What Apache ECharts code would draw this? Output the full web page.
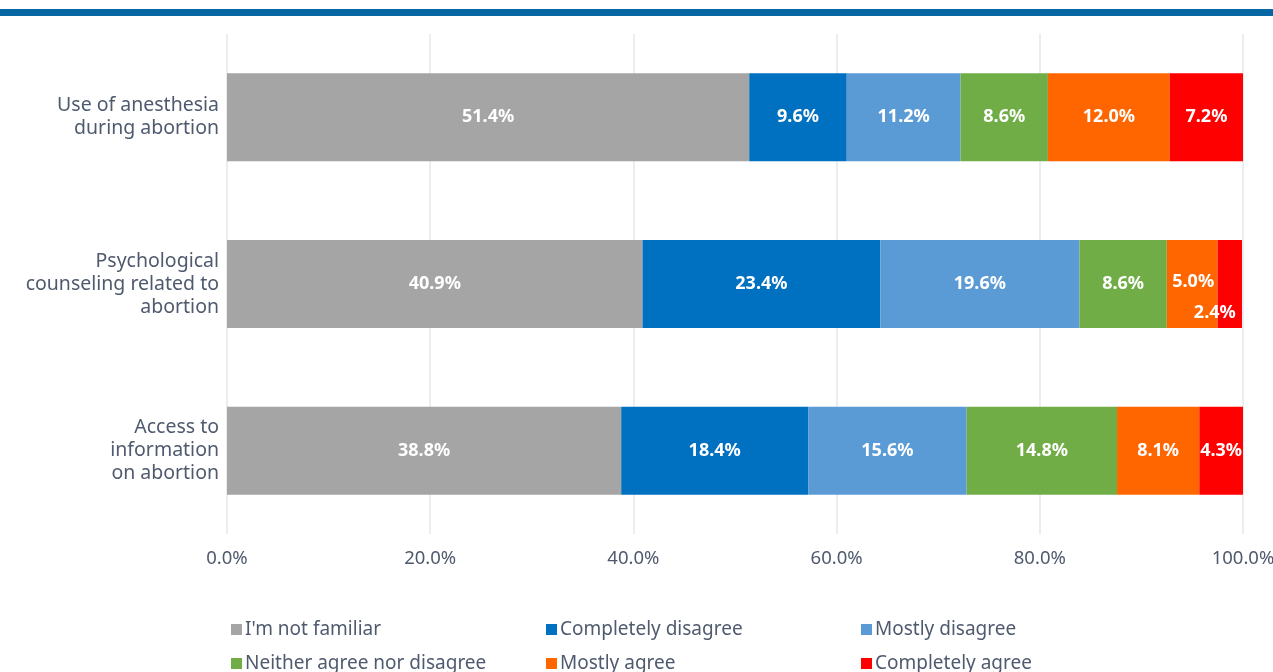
<!DOCTYPE html>
<html>
<head>
<meta charset="utf-8">
<script src="https://cdn.jsdelivr.net/npm/echarts@6/dist/echarts.min.js"></script>
<style>
  html, body { margin: 0; padding: 0; background: #fff; }
  #topline { position: absolute; left: 0; top: 9px; width: 1273px; height: 7px; background: #0467a4; }
  #chart { width: 1273px; height: 672px; }
</style>
</head>
<body>
<div id="topline"></div>
<div id="chart"></div>
<script>
const categories = [
  'Use of anesthesia\nduring abortion',
  'Psychological\ncounseling related to\nabortion',
  'Access to\ninformation\non abortion'
];
const seriesNames = [
  "I'm not familiar",
  'Completely disagree',
  'Mostly disagree',
  'Neither agree nor disagree',
  'Mostly agree',
  'Completely agree'
];
const notFamiliar = [51.4, 40.9, 38.8];
const completelyDisagree = [9.6, 23.4, 18.4];
const mostlyDisagree = [11.2, 19.6, 15.6];
const neither = [8.6, 8.6, 14.8];
const mostlyAgree = [12.0, 5.0, 8.1];
const completelyAgree = [7.2, 2.4, 4.3];
const xTicks = [0, 20, 40, 60, 80, 100];

const colors = ['#a5a5a5', '#0070c0', '#5b9bd5', '#70ad47', '#ff6600', '#ff0000'];
const values = [notFamiliar, completelyDisagree, mostlyDisagree, neither, mostlyAgree, completelyAgree];
const font = '"Noto Sans", sans-serif';
const textColor = '#4f5a6e';

const chart = echarts.init(document.getElementById('chart'));

// one legend per item so they sit in a fixed 3-column grid
const legendPos = [[226, 615], [541, 615], [856, 615], [226, 649], [541, 649], [856, 649]];
const legends = seriesNames.map((name, i) => ({
  data: [name],
  left: legendPos[i][0],
  top: legendPos[i][1],
  itemWidth: 11,
  itemHeight: 11,
  itemGap: 4,
  icon: 'rect',
  textStyle: { fontFamily: font, fontSize: 19, color: textColor, padding: [0, 0, 0, -2] },
  selectedMode: false
}));

const series = seriesNames.map((name, i) => ({
  name,
  type: 'bar',
  stack: 'total',
  barWidth: 88,
  itemStyle: { color: colors[i] },
  label: {
    show: true,
    position: 'inside',
    color: '#fff',
    fontFamily: font,
    fontWeight: 'bold',
    fontSize: 18,
    formatter: (p) => p.value.toFixed(1) + '%'
  },
  data: values[i].map((v, j) => {
    // small segments in the middle row: nudge labels apart
    if (i === 5 && j === 1) return { value: v, label: { offset: [-15, 29] } };
    if (i === 4 && j === 1) return { value: v, label: { offset: [1, -2] } };
    return v;
  })
}));

chart.setOption({
  animation: false,
  legend: legends,
  grid: { left: 227, right: 30, top: 34, bottom: 138, outerBoundsMode: 'none' },
  xAxis: {
    type: 'value',
    min: 0,
    max: 100,
    interval: 20,
    axisLine: { show: false },
    axisTick: { show: false },
    splitLine: { lineStyle: { color: '#e3e7ee', width: 1.5 } },
    axisLabel: {
      margin: 15,
      fontFamily: font,
      fontSize: 18.5,
      color: textColor,
      formatter: (v) => (xTicks.includes(v) ? v.toFixed(1) + '%' : '')
    }
  },
  yAxis: {
    type: 'category',
    inverse: true,
    data: categories,
    axisLine: { show: false },
    axisTick: { show: false },
    axisLabel: {
      margin: 8,
      fontFamily: font,
      fontSize: 19.5,
      lineHeight: 23,
      color: textColor,
      align: 'right'
    }
  },
  series
});
</script>
</body>
</html>
